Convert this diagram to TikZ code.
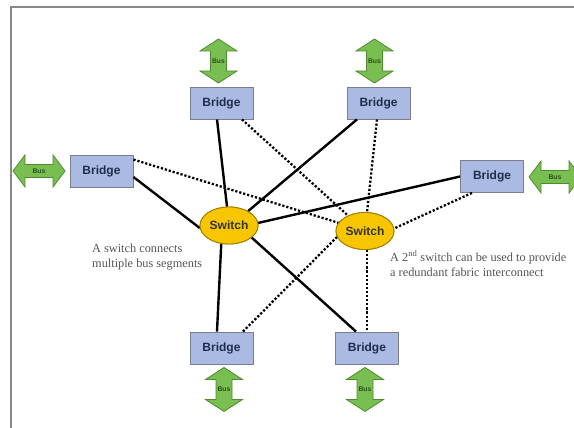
\documentclass[tikz,border=0pt]{standalone}
\usepackage{fontspec}
\usetikzlibrary{shapes.geometric}
\setmainfont{Liberation Serif}
\setsansfont{Liberation Sans}
\definecolor{bridgefill}{RGB}{170,186,226}
\definecolor{bridgeline}{RGB}{122,127,143}
\definecolor{bridgetext}{RGB}{31,45,77}
\definecolor{switchfill}{RGB}{247,198,0}
\definecolor{switchline}{RGB}{160,128,0}
\definecolor{busfill}{RGB}{120,190,80}
\definecolor{busline}{RGB}{79,139,46}
\definecolor{bustextc}{RGB}{40,80,25}
\definecolor{framec}{RGB}{136,136,136}
\definecolor{notec}{RGB}{85,85,85}
\tikzset{
  bridge/.style={draw=bridgeline, line width=0.9pt, fill=bridgefill, minimum width=63pt, minimum height=32pt, inner sep=0pt,
    font=\sffamily\bfseries\fontsize{12}{14}\selectfont, text=bridgetext},
  switchnode/.style={ellipse, draw=switchline, line width=0.9pt, fill=switchfill, minimum width=58pt, minimum height=37pt, inner sep=0pt,
    font=\sffamily\bfseries\fontsize{12}{14}\selectfont, text=black!80},
  busarrow/.style={draw=busline, line width=0.8pt, fill=busfill},
  bustext/.style={font=\sffamily\bfseries\fontsize{6.8}{7}\selectfont, text=bustextc, inner sep=0pt},
  solidlink/.style={line width=2.4pt, black},
  dottedlink/.style={line width=2.3pt, black, dash pattern=on 2.2pt off 1.9pt},
  note/.style={font=\fontsize{12.3}{15}\selectfont, text=notec, align=left, inner sep=0pt, anchor=west},
  vbus/.pic={
    \path[busarrow] (0,-22) -- (18.5,-10) -- (8,-10) -- (8,10) -- (18.5,10) -- (0,22) -- (-18.5,10) -- (-8,10) -- (-8,-10) -- (-18.5,-10) -- cycle;
    \node[bustext] (-t) at (0,0) {Bus};
  },
  hbus/.pic={
    \path[busarrow] (-26,0) -- (-14,-16) -- (-14,-6.5) -- (14,-6.5) -- (14,-16) -- (26,0) -- (14,16) -- (14,6.5) -- (-14,6.5) -- (-14,16) -- cycle;
    \node[bustext] (-t) at (0,0) {Bus};
  },
}
\begin{document}
\begin{tikzpicture}[x=1pt, y=-1pt]
\useasboundingbox (0,0) rectangle (574,428);
\clip (0,0) rectangle (574,428);
\fill[white] (0,0) rectangle (574,428);
% frame
\coordinate (fa) at (11,430);
\coordinate (fb) at (11,7);
\coordinate (fc) at (576,7);
\draw[framec, line width=1.6pt] (fa) -- (fb) -- (fc);

% bridges
\node[bridge] (tl) at (221.5,103) {Bridge};
\node[bridge] (tr) at (378.5,103) {Bridge};
\node[bridge] (l)  at (101.5,171) {Bridge};
\node[bridge] (r)  at (492,176.5) {Bridge};
\node[bridge] (bl) at (221.5,348) {Bridge};
\node[bridge] (br) at (367,348) {Bridge};

% switches
\node[switchnode] (s1) at (229,225.5) {Switch};
\node[switchnode] (s2) at (365,231) {Switch};

% links
\draw[solidlink] ([xshift=-4.5pt]tl.south) -- (s1.96);
\draw[solidlink] ([xshift=-21.5pt]tr.south) -- (s1.37);
\draw[solidlink] ([yshift=-6pt]l.east) -- (s1.185);
\draw[solidlink] ([yshift=0pt]r.west) -- (s1.5);
\draw[solidlink] ([xshift=-4.5pt]bl.north) -- (s1.247);
\draw[solidlink] ([xshift=-11pt]br.north) -- (s1.332);

\draw[dottedlink] ([xshift=20.5pt]tl.south) -- (s2);
\draw[dottedlink] ([yshift=-5pt]l.north east) -- (s2);
\draw[dottedlink] ([xshift=-1.5pt]tr.south) -- (s2);
\draw[dottedlink] ([xshift=-20pt]r.south) -- (s2.5);
\draw[dottedlink] ([xshift=21.5pt]bl.north) -- (s2.192);
\draw[dottedlink] (s2.south -| br.north) -- (br.north);

% redraw switches on top
\node[switchnode] at (s1) {Switch};
\node[switchnode] at (s2) {Switch};

% bus arrows
\pic (b1) at (218.5,61) {vbus};
\pic (b2) at (374.5,61) {vbus};
\pic (b3) at (224,389.5) {vbus};
\pic (b4) at (365,389.5) {vbus};
\pic (b5) at (39,171) {hbus};
\pic (b6) at (555,177) {hbus};

% notes
\node[note] (n1) at (92,257.5) {A switch connects\\multiple bus segments};
\node[note] (n2) at (390,263.5) {A 2\textsuperscript{nd} switch can be used to provide\\a redundant fabric interconnect};
\end{tikzpicture}
\end{document}
